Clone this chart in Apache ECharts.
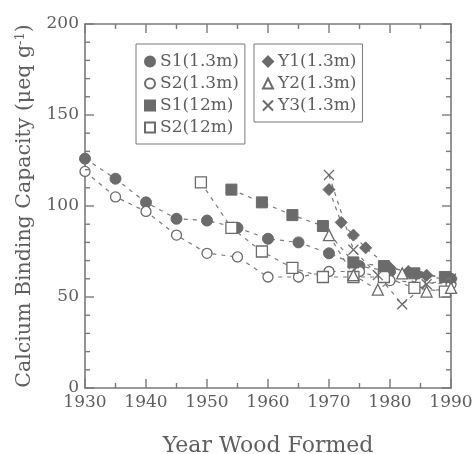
<!DOCTYPE html>
<html>
<head>
<meta charset="utf-8">
<script src="https://cdn.jsdelivr.net/npm/echarts@6/dist/echarts.min.js"></script>
<style>
html,body{margin:0;padding:0;background:#fff;}
#chart{width:472px;height:454px;}
</style>
</head>
<body>
<div id="chart"></div>
<script>
// ---- data ----
var xTicks = [1930, 1940, 1950, 1960, 1970, 1980, 1990];
var xMinorTicks = [1935, 1945, 1955, 1965, 1975, 1985];
var yTicks = [0, 50, 100, 150, 200];
var yMinorTicks = [10, 20, 30, 40, 60, 70, 80, 90, 110, 120, 130, 140, 160, 170, 180, 190];

var s1_13_years = [1930, 1935, 1940, 1945, 1950, 1955, 1960, 1965, 1970, 1975, 1980, 1985, 1990];
var s1_13_vals  = [126, 115, 102, 93, 92, 88, 82, 80, 74, 67, 64, 61, 60];

var s2_13_years = [1930, 1935, 1940, 1945, 1950, 1955, 1960, 1965, 1970, 1975, 1980, 1985, 1990];
var s2_13_vals  = [119, 105, 97, 84, 74, 72, 61, 61, 64, 64, 59, 58, 57];

var s1_12_years = [1954, 1959, 1964, 1969, 1974, 1979, 1984, 1989];
var s1_12_vals  = [109, 102, 95, 89, 69, 67, 63, 61];

var s2_12_years = [1949, 1954, 1959, 1964, 1969, 1974, 1979, 1984, 1989];
var s2_12_vals  = [113, 88, 75, 66, 61, 61, 61, 55, 53];

var y1_years = [1970, 1972, 1974, 1976, 1980, 1983, 1986, 1990];
var y1_vals  = [109, 91, 84, 77, 66, 64, 62, 60];

var y2_years = [1970, 1974, 1978, 1982, 1986, 1990];
var y2_vals  = [84, 62, 54, 63, 53, 55];

var y3_years = [1970, 1974, 1978, 1982, 1986, 1990];
var y3_vals  = [117, 76, 62, 46, 57, 60];

var seriesNames = ['S1(1.3m)', 'S2(1.3m)', 'S1(12m)', 'S2(12m)', 'Y1(1.3m)', 'Y2(1.3m)', 'Y3(1.3m)'];

// ---- build chart ----
function pairs(xs, ys) { return xs.map(function (x, i) { return [x, ys[i]]; }); }

var GRAY = '#6b6b6b';
var AX = '#7a7a7a';
var TXT = '#5e5e5e';
var FONT = '"DejaVu Serif", "Liberation Serif", serif';
var crossPath = 'path://M0,0L10,10M10,0L0,10';

var X0 = xTicks[0], X1 = xTicks[xTicks.length - 1];
var Y0 = yTicks[0], Y1 = yTicks[yTicks.length - 1];

function mk(name, xs, ys, symbol, size, filled) {
  return {
    name: name, type: 'line', data: pairs(xs, ys),
    symbol: symbol, symbolSize: size, showAllSymbol: true, z: 3,
    lineStyle: { color: AX, width: 1.2, type: [4, 5] },
    itemStyle: filled
      ? { color: GRAY, borderColor: GRAY, borderWidth: 1 }
      : { color: symbol === crossPath ? 'rgba(0,0,0,0)' : '#ffffff', borderColor: GRAY, borderWidth: 1.3 },
    emphasis: { disabled: true }
  };
}

var series = [
  mk(seriesNames[0], s1_13_years, s1_13_vals, 'circle', 11, true),
  mk(seriesNames[1], s2_13_years, s2_13_vals, 'circle', 10, false),
  mk(seriesNames[2], s1_12_years, s1_12_vals, 'rect', 11, true),
  mk(seriesNames[3], s2_12_years, s2_12_vals, 'rect', 11, false),
  mk(seriesNames[4], y1_years, y1_vals, 'diamond', 12, true),
  mk(seriesNames[5], y2_years, y2_vals, 'triangle', 11, false),
  mk(seriesNames[6], y3_years, y3_vals, crossPath, 10, false)
];

// inside axis ticks on all four sides, positioned through the axes' scales
// item: [x, y, side(0 bottom,1 top,2 left,3 right), major(1)/minor(0)]
var tickItems = [];
xTicks.forEach(function (v) { tickItems.push([v, Y0, 0, 1], [v, Y1, 1, 1]); });
xMinorTicks.forEach(function (v) { tickItems.push([v, Y0, 0, 0], [v, Y1, 1, 0]); });
yTicks.forEach(function (v) { tickItems.push([X0, v, 2, 1], [X1, v, 3, 1]); });
yMinorTicks.forEach(function (v) { tickItems.push([X0, v, 2, 0], [X1, v, 3, 0]); });

var TW = 1.4;
series.push({
  name: 'ticks', type: 'custom', silent: true, clip: false, z: 5,
  data: tickItems,
  renderItem: function (params, api) {
    var p = api.coord([api.value(0), api.value(1)]);
    var side = api.value(2);
    var len = api.value(3) ? 9 : 5;
    var r;
    if (side === 0) r = { x: p[0] - TW / 2, y: p[1] - len, width: TW, height: len };
    else if (side === 1) r = { x: p[0] - TW / 2, y: p[1], width: TW, height: len };
    else if (side === 2) r = { x: p[0], y: p[1] - TW / 2, width: len, height: TW };
    else r = { x: p[0] - len, y: p[1] - TW / 2, width: len, height: TW };
    return { type: 'rect', shape: r, style: { fill: AX, stroke: null } };
  }
});

var iconOf = ['circle', 'circle', 'rect', 'rect', 'diamond', 'triangle', crossPath];
function legendData(idxs) { return idxs.map(function (i) { return { name: seriesNames[i], icon: iconOf[i] }; }); }
function legendCfg(left, idxs) {
  return {
    orient: 'vertical', left: left, top: 44, padding: [9, 6, 8, 8], itemGap: 5,
    itemWidth: 10, itemHeight: 10, borderColor: AX, borderWidth: 1, selectedMode: false,
    textStyle: { fontFamily: FONT, fontSize: 17, color: TXT, lineHeight: 17 },
    data: legendData(idxs)
  };
}
function axisLine() { return { show: true, onZero: false, lineStyle: { color: AX, width: 1.6 } }; }

var xBottom = {
  type: 'value', position: 'bottom', min: X0, max: X1, interval: 10,
  axisLine: axisLine(), axisTick: { show: false }, splitLine: { show: false },
  axisLabel: { show: true, fontFamily: FONT, fontSize: 17, color: TXT, margin: 6,
               formatter: function (v) { return String(v); } },
  name: 'Year Wood Formed', nameLocation: 'middle', nameGap: 47,
  nameTextStyle: { fontFamily: FONT, fontSize: 22, color: TXT }
};
var xTop = {
  type: 'value', position: 'top', min: X0, max: X1, interval: 10,
  axisLine: axisLine(), axisTick: { show: false }, splitLine: { show: false }, axisLabel: { show: false }
};
var yLeft = {
  type: 'value', position: 'left', min: Y0, max: Y1, interval: 50,
  axisLine: axisLine(), axisTick: { show: false }, splitLine: { show: false },
  axisLabel: { show: true, fontFamily: FONT, fontSize: 17, color: TXT, margin: 6 },
  name: 'Calcium Binding Capacity (μeq g{sup|-1})', nameLocation: 'middle', nameGap: 49, nameRotate: 90,
  nameTextStyle: {
    fontFamily: FONT, fontSize: 20.5, color: TXT,
    rich: { sup: { fontFamily: FONT, fontSize: 13, color: TXT, verticalAlign: 'top', padding: [0, 0, 9, 0] } }
  }
};
var yRight = {
  type: 'value', position: 'right', min: Y0, max: Y1, interval: 50,
  axisLine: axisLine(), axisTick: { show: false }, splitLine: { show: false }, axisLabel: { show: false }
};

var option = {
  backgroundColor: '#ffffff',
  animation: false,
  grid: { left: 85, right: 21, top: 24, bottom: 66, outerBoundsMode: 'none', containLabel: false },
  legend: [legendCfg(136, [0, 1, 2, 3]), legendCfg(254, [4, 5, 6])],
  xAxis: [xBottom, xTop],
  yAxis: [yLeft, yRight],
  series: series
};

var chart = echarts.init(document.getElementById('chart'), null, { renderer: 'canvas' });
chart.setOption(option);
</script>
</body>
</html>
